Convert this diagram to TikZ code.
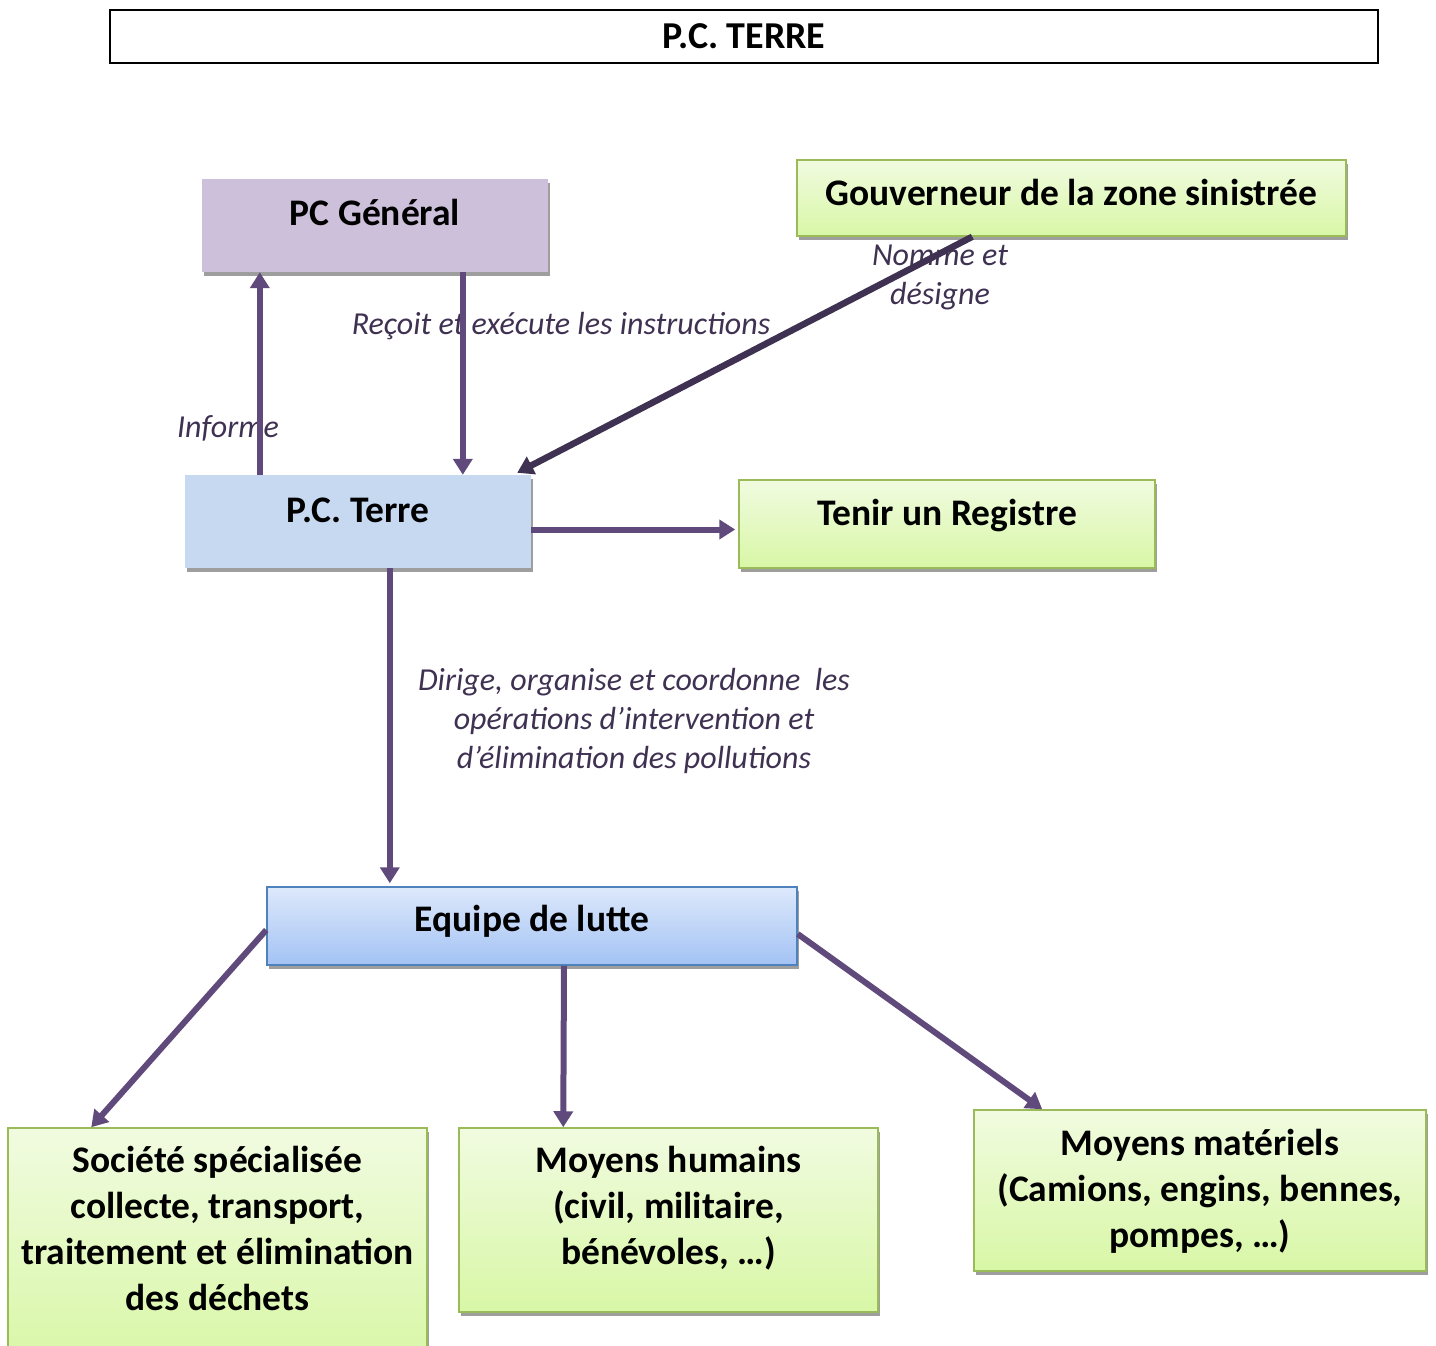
\documentclass[tikz,border=0pt]{standalone}
\usepackage{fontspec}
\setmainfont{Carlito}
\usetikzlibrary{arrows.meta,shadows}
\definecolor{flowpurple}{HTML}{604A7B}
\definecolor{darkpurple}{HTML}{3F3151}
\definecolor{labelpurple}{HTML}{3F3151}
\definecolor{pcgfill}{HTML}{CCC0DA}
\definecolor{pctfill}{HTML}{C6D9F1}
\definecolor{greentop}{HTML}{F1FBE0}
\definecolor{greenbot}{HTML}{D8F7A6}
\definecolor{greenline}{HTML}{9BBB59}
\definecolor{bluetop}{HTML}{DDE8FB}
\definecolor{bluebot}{HTML}{A3C3F4}
\definecolor{blueline}{HTML}{4F81BD}
\begin{document}
\begin{tikzpicture}[x=1pt,y=-1pt,
  boxfont/.style={font=\fontsize{37.5}{46}\selectfont\bfseries},
  labelfont/.style={font=\fontsize{32}{39}\selectfont\itshape, text=labelpurple},
  boxshadow/.style={drop shadow={shadow xshift=1.5pt, shadow yshift=-4pt, fill=black!38, opacity=1}},
  plainbox/.style={boxfont, boxshadow, inner sep=0pt, anchor=base, align=flush center},
  greenbox/.style={plainbox, draw=greenline, line width=1.5pt, top color=greentop, bottom color=greenbot},
  flow/.style={draw=flowpurple, line width=6pt, -{Triangle[length=16pt,width=19pt]}}]
\useasboundingbox (0,0) rectangle (1436,1346);

% title
\node[draw=black, line width=1.5pt, fill=white, font=\fontsize{38}{44}\selectfont\bfseries,
  minimum width=1268pt, inner sep=0pt, text height=39pt, text depth=14pt, anchor=base] (title) at (744,49) {P.C. TERRE};

% upper boxes
\node[plainbox, fill=pcgfill, minimum width=346pt, text height=46pt, text depth=47pt] (pcg) at (375,225) {PC Général};
\node[greenbox, minimum width=549pt, text height=45pt, text depth=31pt] (gov) at (1071.5,205) {Gouverneur de la zone sinistrée};
\node[plainbox, fill=pctfill, minimum width=346pt, text height=47pt, text depth=46pt] (pct) at (358,522) {P.C. Terre};
\node[greenbox, minimum width=416pt, text height=45pt, text depth=43pt] (reg) at (947,525) {Tenir un Registre};

% team
\node[plainbox, draw=blueline, line width=1.5pt, top color=bluetop, bottom color=bluebot,
  minimum width=530pt, text height=44pt, text depth=34pt] (team) at (532,931) {Equipe de lutte};

% lower boxes
\node[greenbox, text width=419pt, text height=44pt, text depth=193pt] (soc) at (217.5,1172)
  {Société spécialisée\\collecte, transport,\\traitement et élimination\\des déchets};
\node[greenbox, text width=419pt, text height=44pt, text depth=140pt] (hum) at (668.5,1172)
  {Moyens humains\\(civil, militaire,\\bénévoles, …)};
\node[greenbox, text width=452pt, text height=45pt, text depth=116pt] (mat) at (1200,1155)
  {Moyens matériels\\(Camions, engins, bennes,\\pompes, …)};

% labels
\node[labelfont] (informe) at (228,428) {Informe};
\node[labelfont] (recoit) at (561,326) {Reçoit et exécute les instructions};
\node[labelfont, align=center] (nomme) at (940,277) {Nomme et\\désigne};
\node[labelfont, align=center] (dirige) at (634,721)
  {Dirige, organise et coordonne\ \ les\\opérations d’intervention et\\d’élimination des pollutions};

% connectors
\draw[flow] ([xshift=75pt]pct.north west) -- ([xshift=75pt]pct.north west |- pcg.south);
\draw[flow] ([xshift=261pt]pcg.south west) -- ([xshift=261pt]pcg.south west |- pct.north);
\draw[flow, draw=darkpurple, line width=6.5pt] ([xshift=176pt]gov.south west) -- ([xshift=-14pt,yshift=2pt]pct.north east);
\draw[flow, shorten >=3pt] ([yshift=-8pt]pct.east) -- ([yshift=-8pt]pct.east -| reg.west);
\draw[flow, shorten >=3pt] ([xshift=205pt]pct.south west) -- ([xshift=205pt]pct.south west |- team.north);
\draw[flow] ([yshift=-4pt]team.west) -- ([xshift=84pt]soc.north west);
\draw[flow] ([xshift=32pt]team.south) -- ([xshift=105pt]hum.north west);
\draw[flow] ([yshift=-8pt]team.east) -- ([xshift=69pt]mat.north west);
\end{tikzpicture}
\end{document}
